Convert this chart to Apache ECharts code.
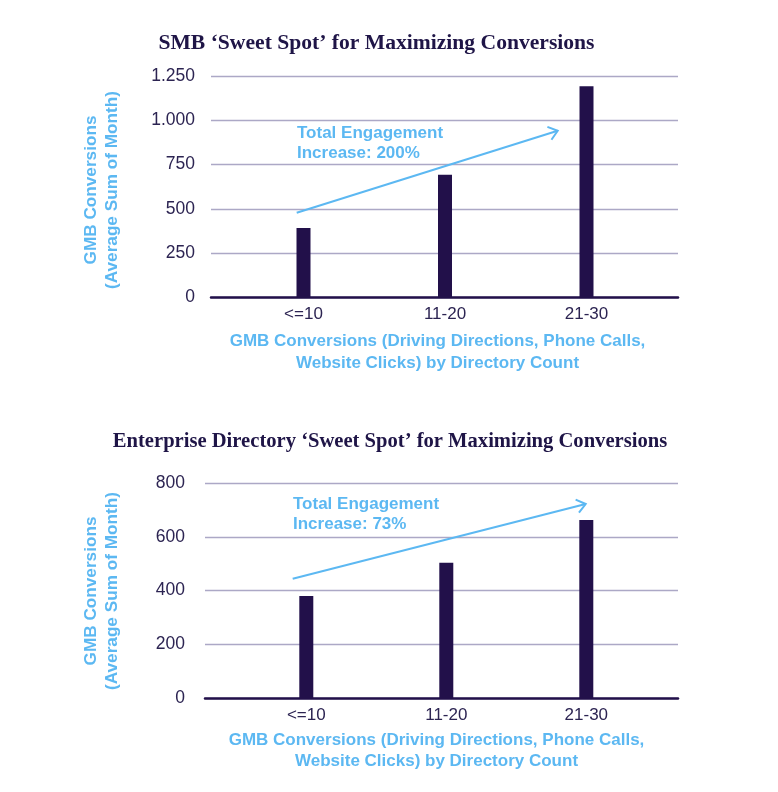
<!DOCTYPE html>
<html>
<head>
<meta charset="utf-8">
<script src="https://cdn.jsdelivr.net/npm/echarts@6/dist/echarts.min.js"></script>
<style>
html,body{margin:0;padding:0;background:#fff;}
#chart{width:778px;height:792px;}
</style>
</head>
<body>
<div id="chart"></div>
<script>
// ---- data ----
const categories = ['<=10', '11-20', '21-30'];
const smbValues = [392, 692, 1192];
const entValues = [380, 504, 663];
const smbTitle = 'SMB \u2018Sweet Spot\u2019 for Maximizing Conversions';
const entTitle = 'Enterprise Directory \u2018Sweet Spot\u2019 for Maximizing Conversions';
const yName = ['GMB Conversions', '(Average Sum of Month)'];
const xName = ['GMB Conversions (Driving Directions, Phone Calls,', 'Website Clicks) by Directory Count'];
const smbNote = ['Total Engagement', 'Increase: 200%'];
const entNote = ['Total Engagement', 'Increase: 73%'];
const smbTicks = {min: 0, max: 1250, interval: 250};
const entTicks = {min: 0, max: 800, interval: 200};

// ---- styles ----
const NAVY = '#22104a';
const LABEL = '#2c2452';
const BLUE = '#5cb8f2';
const GRIDLINE = '#aca8c6';
const SANS = '"Liberation Sans", Arial, sans-serif';
const SERIF = '"Liberation Serif", "Times New Roman", serif';

const chart = echarts.init(document.getElementById('chart'), null, {renderer: 'canvas'});

function fmtThousands(v) {
  return String(v).replace(/\B(?=(\d{3})+(?!\d))/g, '.');
}

// layout per panel
const panels = [
  {top: 76, height: 221.3, gridLeft: 211, barLeft: 232.75, barWidth: 424.5, labelMargin: 16,
   ticks: smbTicks, values: smbValues},
  {top: 483.3, height: 214.7, gridLeft: 205, barLeft: 236.3, barWidth: 420, labelMargin: 20,
   ticks: entTicks, values: entValues}
];

const grid = [], xAxis = [], yAxis = [], series = [];
panels.forEach((p, i) => {
  grid.push({left: p.gridLeft, right: 100, top: p.top, height: p.height, containLabel: false});
  grid.push({left: p.barLeft, width: p.barWidth, top: p.top, height: p.height, containLabel: false});
  const gA = i * 2, gB = i * 2 + 1;
  xAxis.push({
    gridIndex: gA, type: 'category', data: categories, boundaryGap: true,
    axisLine: {show: true, lineStyle: {color: NAVY, width: 2.5}},
    axisTick: {show: false}, axisLabel: {show: false}, splitLine: {show: false}
  });
  xAxis.push({
    gridIndex: gB, type: 'category', data: categories, boundaryGap: true,
    axisLine: {show: false}, axisTick: {show: false},
    axisLabel: {show: true, margin: 9, color: LABEL, fontSize: 17, fontFamily: SANS}
  });
  yAxis.push({
    gridIndex: gA, type: 'value', min: p.ticks.min, max: p.ticks.max, interval: p.ticks.interval,
    axisLine: {show: false}, axisTick: {show: false},
    axisLabel: {margin: p.labelMargin, color: LABEL, fontSize: 17.5, fontFamily: SANS,
      formatter: v => fmtThousands(v)},
    splitLine: {show: true, lineStyle: {color: GRIDLINE, width: 1.3}}
  });
  yAxis.push({
    gridIndex: gB, type: 'value', min: p.ticks.min, max: p.ticks.max, interval: p.ticks.interval,
    show: false, splitLine: {show: false}
  });
  series.push({
    type: 'bar', xAxisIndex: gB, yAxisIndex: gB, data: p.values,
    barWidth: 14, itemStyle: {color: NAVY}, z: 3, silent: true
  });
});

function arrow(x1, y1, x2, y2) {
  const dx = x2 - x1, dy = y2 - y1, len = Math.hypot(dx, dy);
  const ux = dx / len, uy = dy / len;
  const L = 11, a = 38 * Math.PI / 180;
  const c = Math.cos(a), s = Math.sin(a);
  const p1 = [x2 - L * (ux * c - uy * s), y2 - L * (uy * c + ux * s)];
  const p2 = [x2 - L * (ux * c + uy * s), y2 - L * (uy * c - ux * s)];
  return [
    {type: 'line', shape: {x1: x1, y1: y1, x2: x2, y2: y2}, style: {stroke: BLUE, lineWidth: 2}, z: 10},
    {type: 'polyline', shape: {points: [p1, [x2, y2], p2]}, style: {stroke: BLUE, lineWidth: 2, fill: null}, z: 10}
  ];
}

function txt(x, y, lines, opt) {
  return {
    type: 'text', x: x, y: y, z: 10,
    style: Object.assign({
      text: lines.join('\n'), fill: BLUE, fontFamily: SANS, fontWeight: 'bold', fontSize: 17,
      lineHeight: 21.5, align: 'center', verticalAlign: 'middle'
    }, opt || {})
  };
}

const graphic = [
  {type: 'text', x: 376.5, y: 43, z: 10, style: {text: smbTitle, fill: '#1f1547', fontFamily: SERIF,
    fontWeight: 'bold', fontSize: 21.6, align: 'center', verticalAlign: 'middle'}},
  {type: 'text', x: 390, y: 442, z: 10, style: {text: entTitle, fill: '#1f1547', fontFamily: SERIF,
    fontWeight: 'bold', fontSize: 20.6, align: 'center', verticalAlign: 'middle'}},
  Object.assign(txt(101.7, 190, yName, {fontSize: 17.2}), {rotation: Math.PI / 2}),
  Object.assign(txt(101.7, 591, yName, {fontSize: 17.2}), {rotation: Math.PI / 2}),
  txt(437.5, 352.5, xName),
  txt(436.5, 751, xName),
  txt(297, 143, smbNote, {align: 'left', lineHeight: 20}),
  txt(293, 514.5, entNote, {align: 'left', lineHeight: 20}),
  ...arrow(296.7, 212.7, 557.7, 130.7),
  ...arrow(292.7, 578.7, 585.7, 504)
];

chart.setOption({
  backgroundColor: '#ffffff',
  animation: false,
  grid: grid, xAxis: xAxis, yAxis: yAxis, series: series,
  graphic: graphic
});
</script>
</body>
</html>
